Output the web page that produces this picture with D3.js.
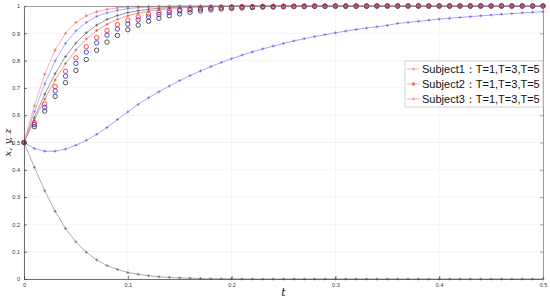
<!DOCTYPE html>
<html>
<head>
<meta charset="utf-8">
<script src="https://cdn.jsdelivr.net/npm/d3@7"></script>
<style>
  body { margin: 0; background: #fff; }
  .tick text { font-family: "Liberation Sans", Arial, sans-serif; font-size: 5.5px; fill: #333; }
</style>
</head>
<body>
<div id="chart"></div>
<script>
var width = 550;
var height = 302;

// sampling grid (t)
var tVals = [0, 0.01, 0.02, 0.03, 0.04, 0.05, 0.06, 0.07, 0.08, 0.09, 0.1, 0.11, 0.12, 0.13, 0.14, 0.15, 0.16, 0.17, 0.18, 0.19, 0.2,
  0.21, 0.22, 0.23, 0.24, 0.25, 0.26, 0.27, 0.28, 0.29, 0.3, 0.31, 0.32, 0.33, 0.34, 0.35, 0.36, 0.37, 0.38, 0.39, 0.4,
  0.41, 0.42, 0.43, 0.44, 0.45, 0.46, 0.47, 0.48, 0.49, 0.5];

// values
var redFast = [0.5, 0.634, 0.75, 0.839, 0.9, 0.94, 0.964, 0.979, 0.988, 0.993, 0.996, 0.998, 0.999, 0.999,
  1, 1, 1, 1, 1, 1, 1, 1, 1, 1, 1, 1, 1, 1, 1, 1, 1, 1, 1, 1, 1, 1, 1, 1, 1, 1, 1, 1, 1, 1, 1, 1, 1, 1, 1, 1, 1];
var blueFast = [0.5, 0.613, 0.715, 0.799, 0.863, 0.909, 0.94, 0.962, 0.975, 0.984, 0.99, 0.994, 0.996, 0.997, 0.998, 0.999, 0.999,
  1, 1, 1, 1, 1, 1, 1, 1, 1, 1, 1, 1, 1, 1, 1, 1, 1, 1, 1, 1, 1, 1, 1, 1, 1, 1, 1, 1, 1, 1, 1, 1, 1, 1];
var blackFast = [0.5, 0.591, 0.677, 0.752, 0.815, 0.864, 0.902, 0.93, 0.951, 0.965, 0.976, 0.983, 0.988, 0.992, 0.994, 0.996, 0.997, 0.998, 0.999, 0.999, 0.999,
  1, 1, 1, 1, 1, 1, 1, 1, 1, 1, 1, 1, 1, 1, 1, 1, 1, 1, 1, 1, 1, 1, 1, 1, 1, 1, 1, 1, 1, 1];
var redMid = [0.5, 0.582, 0.659, 0.729, 0.789, 0.839, 0.879, 0.91, 0.933, 0.951, 0.964, 0.974, 0.981, 0.986, 0.99, 0.993, 0.995, 0.996, 0.997, 0.998, 0.999, 0.999, 0.999, 0.999,
  1, 1, 1, 1, 1, 1, 1, 1, 1, 1, 1, 1, 1, 1, 1, 1, 1, 1, 1, 1, 1, 1, 1, 1, 1, 1, 1];
var redCirc = [0.5, 0.572, 0.641, 0.705, 0.761, 0.81, 0.851, 0.884, 0.91, 0.932, 0.948, 0.96, 0.97, 0.977, 0.983, 0.987, 0.99, 0.993, 0.995, 0.996, 0.997, 0.998, 0.998, 0.999, 0.999, 0.999, 0.999,
  1, 1, 1, 1, 1, 1, 1, 1, 1, 1, 1, 1, 1, 1, 1, 1, 1, 1, 1, 1, 1, 1, 1, 1];
var blueCirc = [0.5, 0.566, 0.629, 0.689, 0.743, 0.79, 0.831, 0.865, 0.893, 0.916, 0.934, 0.949, 0.96, 0.969, 0.976, 0.982, 0.986, 0.989, 0.992, 0.994, 0.995, 0.996, 0.997, 0.998, 0.998, 0.999, 0.999, 0.999, 0.999, 0.999,
  1, 1, 1, 1, 1, 1, 1, 1, 1, 1, 1, 1, 1, 1, 1, 1, 1, 1, 1, 1, 1];
var blackCirc = [0.5, 0.558, 0.615, 0.669, 0.719, 0.764, 0.804, 0.838, 0.868, 0.892, 0.913, 0.93, 0.944, 0.955, 0.964, 0.971, 0.977, 0.982, 0.986, 0.989, 0.991, 0.993, 0.994, 0.996, 0.996, 0.997, 0.998, 0.998, 0.999, 0.999, 0.999, 0.999, 0.999, 0.999,
  1, 1, 1, 1, 1, 1, 1, 1, 1, 1, 1, 1, 1, 1, 1, 1, 1];
var blueDip = [0.5, 0.478, 0.468, 0.468, 0.476, 0.49, 0.508, 0.53, 0.555, 0.584, 0.612, 0.64, 0.664, 0.686, 0.707, 0.727, 0.745, 0.762, 0.778, 0.793, 0.807,
  0.82, 0.832, 0.843, 0.853, 0.863, 0.872, 0.88, 0.888, 0.895, 0.902, 0.908, 0.914, 0.919, 0.924, 0.929, 0.936, 0.94, 0.944, 0.948, 0.952,
  0.955, 0.958, 0.961, 0.964, 0.967, 0.97, 0.972, 0.975, 0.977, 0.979];
var blackDecay = [0.5, 0.409, 0.323, 0.248, 0.185, 0.136, 0.098, 0.07, 0.049, 0.035, 0.024, 0.017, 0.012, 0.008, 0.006, 0.004, 0.003, 0.002, 0.001, 0.001, 0.001,
  0, 0, 0, 0, 0, 0, 0, 0, 0, 0, 0, 0, 0, 0, 0, 0, 0, 0, 0, 0, 0, 0, 0, 0, 0, 0, 0, 0, 0, 0];

var xTicks = [0, 0.1, 0.2, 0.3, 0.4, 0.5];
var yTicks = [0, 0.1, 0.2, 0.3, 0.4, 0.5, 0.6, 0.7, 0.8, 0.9, 1];
var legendLabels = ["Subject1\uFF1AT=1,T=3,T=5", "Subject2\uFF1AT=1,T=3,T=5", "Subject3\uFF1AT=1,T=3,T=5"];

var xScale = d3.scaleLinear().domain([0, 0.5]).range([24, 543]);
var yScale = d3.scaleLinear().domain([0, 1]).range([279, 6]);

var svg = d3.select("#chart").append("svg")
  .attr("width", width)
  .attr("height", height);

// grid
svg.append("g").selectAll("line").data(xTicks).enter().append("line")
  .attr("x1", function(d) { return xScale(d); })
  .attr("x2", function(d) { return xScale(d); })
  .attr("y1", yScale(0)).attr("y2", yScale(1))
  .attr("stroke", "#ececec").attr("stroke-width", 0.6);
svg.append("g").selectAll("line").data(yTicks).enter().append("line")
  .attr("x1", xScale(0)).attr("x2", xScale(0.5))
  .attr("y1", function(d) { return yScale(d); })
  .attr("y2", function(d) { return yScale(d); })
  .attr("stroke", "#ececec").attr("stroke-width", 0.6);

// series definitions
var lineSeries = [
  { values: blackDecay, line: "#8a8a8a", mark: "#555" },
  { values: blueDip, line: "#8080ff", mark: "#5050e0" },
  { values: blackFast, line: "#707070", mark: "#444" },
  { values: redMid, line: "#f07070", mark: "#e03030" },
  { values: blueFast, line: "#8c8cff", mark: "#5a5af0" },
  { values: redFast, line: "#ff8a8a", mark: "#f04545" }
];
var circleSeries = [
  { values: blackCirc, color: "#2a2a2a" },
  { values: blueCirc, color: "#2020e8" },
  { values: redCirc, color: "#f02020" }
];

var line = d3.line()
  .x(function(d, i) { return xScale(tVals[i]); })
  .y(function(d) { return yScale(d); });

var plot = svg.append("g");

lineSeries.forEach(function(s) {
  plot.append("path")
    .datum(s.values)
    .attr("d", line)
    .attr("fill", "none")
    .attr("stroke", s.line)
    .attr("stroke-width", 0.7);
  plot.append("g").selectAll("path").data(s.values).enter().append("path")
    .attr("d", function(d, i) {
      var x = xScale(tVals[i]), y = yScale(d);
      return "M" + (x - 1.5) + "," + y + "H" + (x + 1.5) + "M" + x + "," + (y - 1.5) + "V" + (y + 1.5);
    })
    .attr("stroke", s.mark)
    .attr("stroke-width", 0.6);
});

circleSeries.forEach(function(s) {
  plot.append("g").selectAll("circle").data(s.values).enter().append("circle")
    .attr("cx", function(d, i) { return xScale(tVals[i]); })
    .attr("cy", function(d) { return yScale(d); })
    .attr("r", 2.2)
    .attr("fill", "none")
    .attr("stroke", s.color)
    .attr("stroke-width", 0.8);
});

// axes (ticks inward, box on)
var xAxis = d3.axisBottom(xScale).tickValues(xTicks).tickSizeInner(-3).tickSizeOuter(0).tickPadding(4)
  .tickFormat(function(d) { return d3.format("")(+d.toFixed(1)); });
var yAxis = d3.axisLeft(yScale).tickValues(yTicks).tickSizeInner(-3).tickSizeOuter(0).tickPadding(4)
  .tickFormat(function(d) { return d3.format("")(+d.toFixed(1)); });

svg.append("g").attr("transform", "translate(0," + yScale(0) + ")").call(xAxis)
  .call(function(g) { g.selectAll("line,path").attr("stroke", "#333").attr("stroke-width", 0.7); });
svg.append("g").attr("transform", "translate(" + xScale(0) + ",0)").call(yAxis)
  .call(function(g) { g.selectAll("line,path").attr("stroke", "#333").attr("stroke-width", 0.7); });
svg.append("g").attr("transform", "translate(0," + yScale(1) + ")")
  .call(d3.axisTop(xScale).tickValues(xTicks).tickSizeInner(-3).tickSizeOuter(0).tickFormat(""))
  .call(function(g) { g.selectAll("line,path").attr("stroke", "#777").attr("stroke-width", 0.7); });
svg.append("g").attr("transform", "translate(" + xScale(0.5) + ",0)")
  .call(d3.axisRight(yScale).tickValues(yTicks).tickSizeInner(-3).tickSizeOuter(0).tickFormat(""))
  .call(function(g) { g.selectAll("line,path").attr("stroke", "#777").attr("stroke-width", 0.7); });

// axis labels
svg.append("text")
  .attr("transform", "translate(11," + yScale(0.5) + ") rotate(-90)")
  .attr("text-anchor", "middle")
  .style("font-family", "'DejaVu Serif', serif")
  .style("font-style", "italic")
  .style("font-size", "10px")
  .attr("fill", "#111")
  .text("x, y, z");
svg.append("text")
  .attr("x", xScale(0.25))
  .attr("y", 296)
  .attr("text-anchor", "middle")
  .style("font-family", "'DejaVu Serif', serif")
  .style("font-style", "italic")
  .style("font-size", "11px")
  .attr("fill", "#111")
  .text("t");

// legend
var legend = svg.append("g");
legend.append("rect")
  .attr("x", 405).attr("y", 61)
  .attr("width", 138).attr("height", 46)
  .attr("fill", "#fff")
  .attr("stroke", "#c8c8c8")
  .attr("stroke-width", 0.8);

var rows = legend.selectAll("g.row").data(legendLabels).enter().append("g")
  .attr("class", "row")
  .attr("transform", function(d, i) { return "translate(0," + (69 + i * 15) + ")"; });
rows.append("line")
  .attr("x1", 407).attr("x2", 420)
  .attr("stroke", "#f4a0a0").attr("stroke-width", 0.8);
rows.each(function(d, i) {
  var g = d3.select(this);
  if (i === 1) {
    g.append("circle").attr("cx", 413.5).attr("cy", 0).attr("r", 1.8).attr("fill", "#f07070");
  } else {
    g.append("path").attr("d", "M412,0H415M413.5,-1.5V1.5").attr("stroke", "#f07070").attr("stroke-width", 0.6);
  }
});
rows.append("text")
  .attr("x", 422)
  .attr("y", 4)
  .style("font-family", "'Liberation Sans', Arial, sans-serif")
  .style("font-size", "11px")
  .attr("fill", "#111")
  .text(function(d) { return d; });
</script>
</body>
</html>
